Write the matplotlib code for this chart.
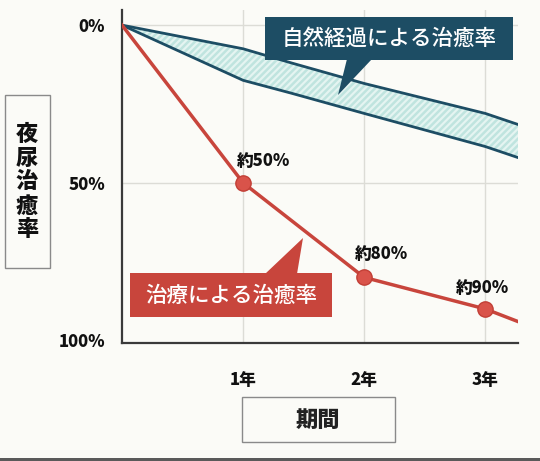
import matplotlib
matplotlib.use('Agg')
import matplotlib.pyplot as plt
from matplotlib.patches import Rectangle, Polygon

plt.rcParams['font.family'] = ['Noto Sans CJK JP', 'DejaVu Sans']
plt.rcParams['hatch.linewidth'] = 1.6

# treatment (red) curve, percent cured by year
treat_years = [0, 1, 2, 3, 3.27]
treat_rate = [0, 50, 80, 90, 94]
marker_years = [1, 2, 3]
marker_rate = [50, 80, 90]
marker_labels = ['約50%', '約80%', '約90%']

# natural course band (upper and lower edge)
band_years = [0, 1.0, 1.4, 2.0, 3.0, 3.27]
band_upper = [0, 7.5, 12, 18.5, 28, 31.5]
band_lower = [0, 17.5, 21.6, 28, 38.5, 42]

x_ticks = [1, 2, 3]
x_ticklabels = ['1年', '2年', '3年']
y_ticks = [0, 50, 100]
y_ticklabels = ['0%', '50%', '100%']

W, H = 540, 461
BG = '#fbfbf7'
TEAL = '#1d4d64'
RED = '#c8453c'

def fx(px): return px / W
def fy(py): return 1 - py / H

fig = plt.figure(figsize=(W / 100, H / 100), dpi=100, facecolor=BG)
ax = fig.add_axes([fx(122), fy(343), fx(518) - fx(122), fy(10) - fy(343)])
ax.set_facecolor(BG)

ax.set_xlim(0, 3.27)
ax.set_ylim(100.8, -4.8)

# grid
for xv in x_ticks:
    ax.axvline(xv, color='#dcdcd6', linewidth=1.0, zorder=0)
for yv in [0, 50]:
    ax.axhline(yv, color='#dcdcd6', linewidth=1.0, zorder=0)

# natural course band
ax.fill_between(band_years, band_upper, band_lower, facecolor='#bfe4df',
                edgecolor='#e4f4f1', hatch='/////', linewidth=0, zorder=1)
ax.plot(band_years, band_upper, color=TEAL, linewidth=2, zorder=2)
ax.plot(band_years, band_lower, color=TEAL, linewidth=2, zorder=2)

# treatment curve
ax.plot(treat_years, treat_rate, color=RED, linewidth=2.5, zorder=3)
ax.plot(marker_years, marker_rate, 'o', color='#d9534a', markeredgecolor='#c23f36',
        markersize=11, zorder=4)
ax.text(1.17, 43, marker_labels[0], fontsize=12, fontweight='heavy', ha='center', va='center', color='#111111')
ax.text(2.14, 72.5, marker_labels[1], fontsize=12, fontweight='heavy', ha='center', va='center', color='#111111')
ax.text(2.98, 83.5, marker_labels[2], fontsize=12, fontweight='heavy', ha='center', va='center', color='#111111')

# axes styling
for s in ['top', 'right']:
    ax.spines[s].set_visible(False)
for s in ['left', 'bottom']:
    ax.spines[s].set_color('#3a3a3a')
    ax.spines[s].set_linewidth(1.6)
ax.set_xticks(x_ticks)
ax.set_xticklabels(x_ticklabels, fontsize=12, fontweight='heavy', color='#111111')
ax.set_yticks(y_ticks)
ax.set_yticklabels(y_ticklabels, fontsize=12, fontweight='heavy', color='#111111')
ax.tick_params(axis='x', length=0, pad=20)
ax.tick_params(axis='y', length=0, pad=12)

# teal callout
fig.add_artist(Rectangle((fx(265), fy(60)), fx(513) - fx(265), fy(17) - fy(60),
                         transform=fig.transFigure, facecolor=TEAL, edgecolor='none', zorder=5))
fig.add_artist(Polygon([(fx(347), fy(59)), (fx(372), fy(59)), (fx(338), fy(95))],
                       transform=fig.transFigure, facecolor=TEAL, edgecolor='none', zorder=5))
fig.text(fx(389), fy(39), '自然経過による治癒率', fontsize=15.5, color='white',
         fontweight='medium', ha='center', va='center', zorder=6)

# red callout
fig.add_artist(Rectangle((fx(130), fy(317)), fx(332) - fx(130), fy(273) - fy(317),
                         transform=fig.transFigure, facecolor=RED, edgecolor='none', zorder=5))
fig.add_artist(Polygon([(fx(265), fy(274)), (fx(297), fy(274)), (fx(303), fy(238))],
                       transform=fig.transFigure, facecolor=RED, edgecolor='none', zorder=5))
fig.text(fx(231), fy(296), '治療による治癒率', fontsize=15.5, color='white',
         fontweight='medium', ha='center', va='center', zorder=6)

# y label box
fig.add_artist(Rectangle((fx(5), fy(268)), fx(50) - fx(5), fy(95) - fy(268),
                         transform=fig.transFigure, facecolor='none', edgecolor='#8a8a8a', linewidth=1))
fig.text(fx(27), fy(182), '\n'.join('夜尿治癒率'), fontsize=16, fontweight='heavy',
         ha='center', va='center', linespacing=1.05, color='#111111')

# x label box
fig.add_artist(Rectangle((fx(242), fy(442)), fx(395) - fx(242), fy(397) - fy(442),
                         transform=fig.transFigure, facecolor='none', edgecolor='#8a8a8a', linewidth=1))
fig.text(fx(318), fy(420), '期間', fontsize=16, fontweight='heavy',
         ha='center', va='center', color='#222222')

# dark scan edge at the bottom
fig.add_artist(Rectangle((0, 0), 1, 3 / H, transform=fig.transFigure,
                         facecolor='#5a5a5a', edgecolor='none'))

fig.savefig('out.png', dpi=100, facecolor=BG)
